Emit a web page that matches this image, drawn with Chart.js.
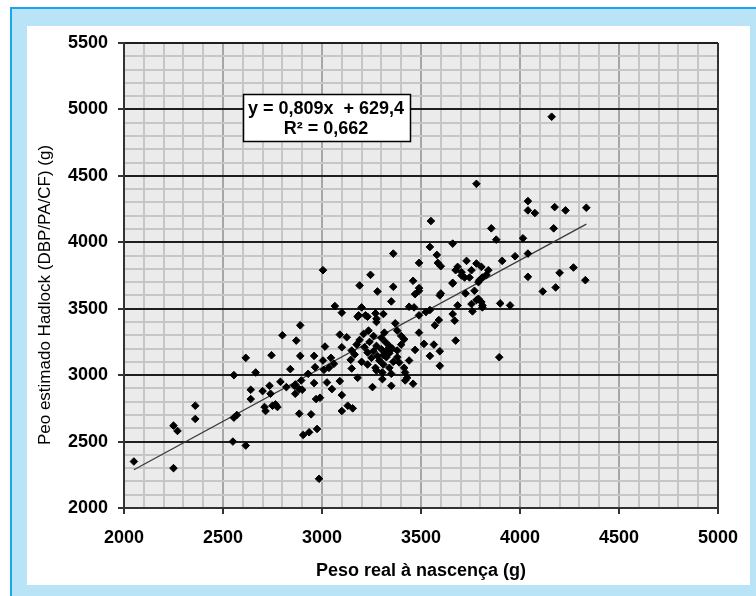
<!DOCTYPE html>
<html>
<head>
<meta charset="utf-8">
<script src="https://cdn.jsdelivr.net/npm/chart.js@4.4.1/dist/chart.umd.min.js"></script>
<style>
  html, body { margin: 0; padding: 0; background: #ffffff; }
  #wrap { position: relative; width: 756px; height: 596px; overflow: hidden; }
  #frame { position: absolute; left: 10px; top: 7px; width: 746px; height: 589px; background: #b9e3f7; border-left: 2px solid #1aa6e8; border-top: 2px solid #1aa6e8; box-sizing: border-box; }
  #panel { position: absolute; left: 27px; top: 26px; width: 723px; height: 559px; background: #ffffff; }
  canvas { position: absolute; left: 0; top: 0; }
</style>
</head>
<body>
<div id="wrap">
  <div id="frame"></div>
  <div id="panel"></div>
  <canvas id="c" width="756" height="596"></canvas>
</div>
<script>
// Birth weight (g) — real
const birthWeight = [
  2050,2250,2250,2270,2360,2360,2550,2615,2555,2570,2555,2615,2665,2640,2640,2700,2735,2740,2710,2715,
  2750,2765,2775,2745,2800,2870,2840,2790,2820,2865,2865,2885,2900,2895,2890,2960,2965,2930,2960,2970,
  2885,2945,2905,2935,2975,2985,3100,3130,3155,2990,3050,3025,3100,3090,2890,2860,3005,3015,3045,3060,
  3035,3010,3065,3100,3190,3280,3360,3350,3185,3200,3230,3270,3310,3275,3090,3125,3190,3210,3235,3260,
  3315,3370,3380,3400,3415,3100,3150,3165,3145,3215,3230,3275,3300,3325,3340,3280,3290,3325,3340,3270,
  3275,3305,3340,3380,3390,3415,3440,3420,3430,3420,3460,3350,3305,3255,3180,3470,3490,3515,3545,3565,
  3595,3595,3675,3570,3590,3525,3545,3440,3465,3490,3660,3670,3685,3760,3755,3790,3810,3725,3770,3790,
  3595,3600,3490,3470,3490,3660,3460,3005,3360,3490,3545,3245,3180,3220,3275,4160,3780,3550,4040,4040,
  4075,4175,4230,4335,4170,3855,3880,4015,3660,3580,3585,3600,3730,3780,3805,3685,3675,3705,3755,3840,
  3910,3975,4040,4040,4200,4270,4330,3705,3720,3745,3660,3795,3810,3830,4180,4115,3780,3805,3810,3900,
  3950,3895,3240,3320,3355,3300,3250,3360,3200,3230,3310,3350,3380,3400,3260,3310,3150,3175
];
// Hadlock estimated weight (g)
const hadlockEstimate = [
  2350,2300,2620,2580,2670,2770,2500,2470,2680,2700,3000,3130,3020,2890,2820,2880,2920,2860,2760,2730,
  2770,2780,2760,3150,3300,3260,3045,2950,2910,2930,2860,2895,2890,2960,3145,3145,3060,3010,2940,2820,
  2710,2705,2550,2570,2595,2220,2730,2770,2750,2830,2895,2945,2850,2955,3375,2920,3110,3215,3130,3085,
  3055,3040,3520,3470,3675,3630,3665,3555,3450,3510,3440,3465,3460,3400,3305,3285,3265,3310,3335,3295,
  3320,3390,3335,3295,3270,3210,3185,3155,3115,3210,3170,3220,3195,3185,3220,3145,3110,3135,3165,3055,
  3035,3020,3055,3135,3095,3055,3110,3020,2980,2960,2935,2920,2970,2910,2980,3190,3320,3235,3145,3230,
  3180,3070,3260,3375,3415,3475,3490,3515,3510,3450,3460,3410,3525,3480,3535,3575,3525,3615,3635,3700,
  3600,3615,3635,3610,3655,3690,3710,3790,3915,3845,3965,3755,3440,3450,3425,4945,4440,4160,4310,4240,
  4220,4265,4240,4260,4105,4105,4020,4030,3990,3905,3845,3820,3860,3840,3815,3815,3790,3775,3790,3790,
  3860,3895,3915,3740,3770,3810,3715,3750,3735,3735,3695,3715,3735,3755,3660,3630,3565,3550,3510,3540,
  3525,3135,3250,3250,3200,3280,3130,3100,3100,3080,3080,3010,3185,3230,3180,3150,3050,3230
];
const xTickLabels = ['2000','2500','3000','3500','4000','4500','5000'];
const yTickLabels = ['2000','2500','3000','3500','4000','4500','5000','5500'];
const trendSlope = 0.809;
const trendIntercept = 629.4;
const equationLines = ['y = 0,809x  + 629,4', 'R\u00B2 = 0,662'];
const xTitle = 'Peso real \u00E0 nascen\u00E7a (g)';
const yTitle = 'Peo estimado Hadlock (DBP/PA/CF) (g)';

const points = birthWeight.map((x, i) => ({ x: x, y: hadlockEstimate[i] }));
const xMin = Math.min(...birthWeight), xMax = Math.max(...birthWeight);
const trend = [
  { x: xMin, y: trendSlope * xMin + trendIntercept },
  { x: xMax, y: trendSlope * xMax + trendIntercept }
];

const FONT = '"Liberation Sans", Arial, Helvetica, sans-serif';
const isMajor = v => Math.round(v) % 500 === 0;

const decor = {
  id: 'decor',
  beforeDraw(chart) {
    const { ctx, chartArea: a } = chart;
    ctx.save();
    ctx.fillStyle = '#ebebeb';
    ctx.fillRect(a.left, a.top, a.right - a.left, a.bottom - a.top);
    ctx.restore();
  },
  beforeDatasetsDraw(chart) {
    const { ctx, chartArea: a } = chart;
    ctx.save();
    ctx.strokeStyle = '#333333';
    ctx.lineWidth = 2;
    ctx.beginPath();
    ctx.moveTo(a.right, a.top);
    ctx.lineTo(a.right, a.bottom);
    ctx.stroke();
    ctx.restore();
  },
  afterDraw(chart) {
    const { ctx } = chart;
    ctx.save();
    // equation box
    ctx.fillStyle = '#ffffff';
    ctx.fillRect(243, 94, 168, 48);
    ctx.strokeStyle = '#000000';
    ctx.lineWidth = 1.5;
    ctx.strokeRect(243.5, 94.5, 167, 47);
    ctx.fillStyle = '#000000';
    ctx.font = 'bold 18px ' + FONT;
    ctx.textAlign = 'center';
    ctx.textBaseline = 'alphabetic';
    ctx.fillText(equationLines[0], 326, 114);
    ctx.fillText(equationLines[1], 326, 134);
    // x title
    ctx.font = 'bold 18px ' + FONT;
    ctx.fillText(xTitle, 421, 576);
    // y title
    ctx.translate(50, 295);
    ctx.rotate(-Math.PI / 2);
    ctx.font = '17px ' + FONT;
    ctx.fillText(yTitle, 0, 0);
    ctx.restore();
  }
};

new Chart(document.getElementById('c'), {
  type: 'scatter',
  data: {
    datasets: [
      {
        label: 'dados',
        data: points,
        pointStyle: 'rectRot',
        pointRadius: 3.8,
        pointBorderWidth: 1,
        backgroundColor: '#000000',
        borderColor: '#000000',
        order: 1
      },
      {
        type: 'line',
        label: 'tendência',
        data: trend,
        borderColor: '#3a3a3a',
        borderWidth: 1.3,
        pointRadius: 0,
        fill: false,
        order: 2
      }
    ]
  },
  plugins: [decor],
  options: {
    responsive: false,
    animation: false,
    devicePixelRatio: 1,
    layout: { padding: { left: 0, top: 43, right: 38, bottom: 0 } },
    plugins: { legend: { display: false }, tooltip: { enabled: false } },
    scales: {
      x: {
        type: 'linear',
        min: 2000, max: 5000,
        afterFit(s) { s.height = 88; },
        border: { display: true, color: '#333333', width: 2 },
        grid: {
          lineWidth: 2,
          color: c => isMajor(c.tick.value) ? '#a6a6a6' : '#c6c6c6',
          tickColor: c => isMajor(c.tick.value) ? '#333333' : 'rgba(0,0,0,0)',
          tickLength: 6,
          tickWidth: 2
        },
        ticks: {
          stepSize: 100,
          autoSkip: false,
          maxRotation: 0,
          padding: 13,
          color: '#000000',
          font: { family: FONT, size: 18, weight: 'bold' },
          callback: v => isMajor(v) ? xTickLabels[Math.round((v - 2000) / 500)] : ''
        }
      },
      y: {
        type: 'linear',
        min: 2000, max: 5500,
        afterFit(s) { s.width = 124; },
        border: { display: true, color: '#333333', width: 2 },
        grid: {
          lineWidth: 2,
          color: c => isMajor(c.tick.value) ? '#1e1e1e' : '#c6c6c6',
          tickColor: c => isMajor(c.tick.value) ? '#333333' : 'rgba(0,0,0,0)',
          tickLength: 6,
          tickWidth: 2
        },
        ticks: {
          stepSize: 100,
          autoSkip: false,
          padding: 10,
          color: '#000000',
          font: { family: FONT, size: 18, weight: 'bold' },
          callback: v => isMajor(v) ? yTickLabels[Math.round((v - 2000) / 500)] : ''
        }
      }
    }
  }
});
</script>
</body>
</html>
